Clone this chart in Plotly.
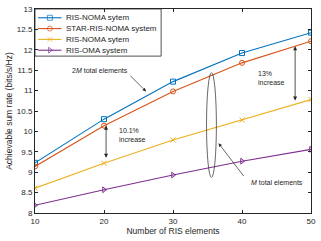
import plotly.graph_objects as go

n_elements = [10, 20, 30, 40, 50]
ris_noma_2m = [9.23, 10.30, 11.22, 11.92, 12.42]
star_ris_noma = [9.14, 10.14, 10.98, 11.68, 12.21]
ris_noma_m = [8.61, 9.22, 9.79, 10.28, 10.78]
ris_oma = [8.19, 8.57, 8.93, 9.27, 9.56]

series = [
    ("RIS-NOMA sytem", ris_noma_2m, "#0072BD", "square-open"),
    ("STAR-RIS-NOMA system", star_ris_noma, "#D95319", "circle-open"),
    ("RIS-NOMA sytem", ris_noma_m, "#EDB120", "x-thin-open"),
    ("RIS-OMA system", ris_oma, "#7E2F8E", "triangle-right-open"),
]

INK = "#262626"
fig = go.Figure()
for name, ys, col, sym in series:
    fig.add_trace(go.Scatter(
        x=n_elements, y=ys, name=name, mode="lines+markers", showlegend=False,
        line=dict(color=col, width=1.1),
        marker=dict(symbol=sym, size=5, color=col, line=dict(color=col, width=1)),
    ))

# compact legend drawn on an overlay axis (0..1 in both directions)
legend_rows = [0.957, 0.904, 0.851, 0.798]
for (name, ys, col, sym), ry in zip(series, legend_rows):
    fig.add_trace(go.Scatter(
        x=[0.011, 0.054, 0.096], y=[ry, ry, ry], xaxis="x2", yaxis="y2",
        mode="lines+markers", showlegend=False, hoverinfo="skip",
        line=dict(color=col, width=1.1),
        marker=dict(symbol=sym, size=[0, 5, 0], color=col, line=dict(color=col, width=1)),
    ))
    fig.add_annotation(x=0.104, y=ry, xref="paper", yref="paper", text=name, showarrow=False,
                       xanchor="left", yanchor="middle", font=dict(size=8, color=INK))
fig.add_shape(type="rect", xref="paper", yref="paper", x0=0.0, x1=0.457, y0=0.769, y1=1.0,
              line=dict(color=INK, width=0.8), fillcolor="rgba(0,0,0,0)", layer="above")

fnt = dict(family="Liberation Sans, Arial, sans-serif", size=8, color=INK)

fig.update_layout(
    width=321, height=241,
    margin=dict(l=35, r=7, t=5, b=28),
    paper_bgcolor="white", plot_bgcolor="white",
    font=fnt,
    showlegend=False,
    xaxis2=dict(overlaying="x", range=[0, 1], visible=False),
    yaxis2=dict(overlaying="y", range=[0, 1], visible=False),
    xaxis=dict(range=[10, 50], tickvals=[10, 20, 30, 40, 50],
               showline=True, mirror="ticks", linecolor=INK, linewidth=1,
               ticks="inside", ticklen=3, tickcolor=INK,
               showgrid=False, zeroline=False,
               title=dict(text="Number of RIS elements", standoff=3, font=dict(size=8.5))),
    yaxis=dict(range=[8, 13], tickvals=[8, 8.5, 9, 9.5, 10, 10.5, 11, 11.5, 12, 12.5, 13],
               showline=True, mirror="ticks", linecolor=INK, linewidth=1,
               ticks="inside", ticklen=3, tickcolor=INK,
               showgrid=False, zeroline=False,
               title=dict(text="Achievable sum rate (bits/s/Hz)", standoff=2, font=dict(size=8.5))),
)

# ellipse
fig.add_shape(type="circle", xref="x", yref="y", x0=34.86, x1=36.29, y0=8.87, y1=11.44,
              line=dict(color=INK, width=0.7))

# annotations
fig.add_annotation(x=26.1, y=10.98, ax=23.6, ay=11.40, xref="x", yref="y", axref="x", ayref="y",
                   text="", showarrow=True, arrowhead=2, arrowsize=1, arrowwidth=0.7, arrowcolor=INK)
fig.add_annotation(x=19.4, y=11.49, text="2<i>M</i> total elements", showarrow=False,
                   font=dict(size=7, color=INK))
fig.add_annotation(x=36.6, y=9.71, ax=40.4, ay=8.87, xref="x", yref="y", axref="x", ayref="y",
                   text="", showarrow=True, arrowhead=2, arrowsize=1, arrowwidth=0.7, arrowcolor=INK)
fig.add_annotation(x=45.0, y=8.75, text="<i>M</i> total elements", showarrow=False,
                   font=dict(size=7, color=INK))
# double arrows
fig.add_annotation(x=47.7, y=12.09, ax=47.7, ay=10.72, xref="x", yref="y", axref="x", ayref="y",
                   text="", showarrow=True, arrowhead=2, startarrowhead=2, arrowside="end+start",
                   arrowsize=1, arrowwidth=0.8, arrowcolor=INK)
fig.add_annotation(x=42.1, y=11.3, text="13%<br>increase", showarrow=False, xanchor="left", align="left",
                   font=dict(size=7, color=INK))
fig.add_annotation(x=20.3, y=10.14, ax=20.3, ay=9.32, xref="x", yref="y", axref="x", ayref="y",
                   text="", showarrow=True, arrowhead=2, startarrowhead=2, arrowside="end+start",
                   arrowsize=1, arrowwidth=0.8, arrowcolor=INK)
fig.add_annotation(x=21.9, y=9.9, text="10.1%<br>increase", showarrow=False, xanchor="left", align="left",
                   font=dict(size=7, color=INK))

fig.write_html("out.html", config={"displayModeBar": False},
               post_script="document.body.style.margin='0';")
